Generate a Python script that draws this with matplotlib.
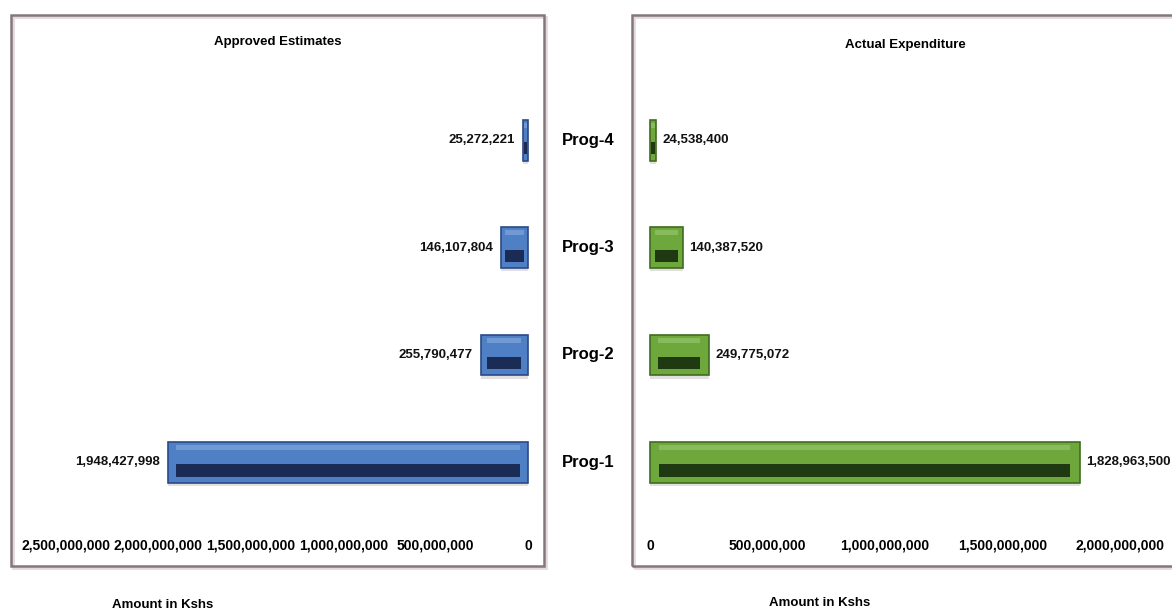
import matplotlib.pyplot as plt
from matplotlib.patches import Rectangle
from matplotlib.ticker import FuncFormatter

# programme budget figures (Kshs)
programmes = ["Prog-1", "Prog-2", "Prog-3", "Prog-4"]
approved = [1948427998, 255790477, 146107804, 25272221]
actual = [1828963500, 249775072, 140387520, 24538400]
approved_ticks = [0, 500000000, 1000000000, 1500000000, 2000000000, 2500000000]
actual_ticks = [0, 500000000, 1000000000, 1500000000, 2000000000]

W, H = 1172, 616
plt.rcParams["font.family"] = ["Liberation Sans", "DejaVu Sans"]
plt.rcParams["font.weight"] = "bold"

fig = plt.figure(figsize=(W / 100, H / 100), dpi=100)
fig.patch.set_facecolor("white")


def px_box(x0, y0, x1, y1):
    # pixel box (top-left origin) -> figure fraction rect
    return [x0 / W, 1 - y1 / H, (x1 - x0) / W, (y1 - y0) / H]


def frame(x0, y0, x1, y1):
    # light drop shadow then border, kept behind the axes
    sx, sy, sw, sh = px_box(x0 + 2, y0 + 2, x1 + 2, y1 + 2)
    fig.patches.append(Rectangle((sx, sy), sw, sh, transform=fig.transFigure,
                                 facecolor="none", edgecolor="#e2dadc", lw=2, zorder=-2))
    bx, by, bw, bh = px_box(x0, y0, x1, y1)
    fig.patches.append(Rectangle((bx, by), bw, bh, transform=fig.transFigure,
                                 facecolor="none", edgecolor="#85777a", lw=1.8, zorder=-1))


frame(11, 15, 544, 566)
frame(632, 15, 1180, 566)


def bevel_bars(ax, ys, vals, main, light, dark, edge, inset_max):
    h = 0.38
    for y, v in zip(ys, vals):
        ax.barh(y - 0.03, v, height=h, color="#d8d0d2", lw=0, alpha=0.7, zorder=1)
        ax.barh(y, v, height=h, color=main, edgecolor=edge, lw=1.2, zorder=2)
        ins = min(0.14 * v, inset_max)
        ax.barh(y + h * 0.36, v - 2 * ins, left=ins, height=h * 0.12,
                color=light, lw=0, zorder=3)
        ax.barh(y - h * 0.2, v - 2 * ins, left=ins, height=h * 0.3,
                color=dark, lw=0, zorder=3)


comma = FuncFormatter(lambda v, p: f"{int(v):,}")
ys = list(range(len(programmes)))

# left panel: approved estimates, value axis running right-to-left
axL = fig.add_axes(px_box(18, 80, 540, 515))
axL.set_xlim(2.76e9, -0.065e9)
axL.set_ylim(-0.49, 3.56)
bevel_bars(axL, ys, approved, "#4f7fc4", "#7199d4", "#1a2b55", "#2c4a86", 45e6)
for y, v in zip(ys, approved):
    axL.text(v + 45e6, y, f"{v:,}", ha="right", va="center", fontsize=9.5,
             fontweight="bold", color="#111111")
axL.set_xticks(approved_ticks)
axL.xaxis.set_major_formatter(comma)

# right panel: actual expenditure
axR = fig.add_axes(px_box(640, 80, 1172, 515))
axR.set_xlim(-0.0426e9, 2.221e9)
axR.set_ylim(-0.49, 3.56)
bevel_bars(axR, ys, actual, "#6ea83c", "#88bb5c", "#1f3a12", "#3f6d1f", 40e6)
for y, v in zip(ys, actual):
    axR.text(v + 28e6, y, f"{v:,}", ha="left", va="center", fontsize=9.5,
             fontweight="bold", color="#111111")
axR.set_xticks(actual_ticks)
axR.xaxis.set_major_formatter(comma)

for ax in (axL, axR):
    ax.set_facecolor("none")
    for s in ax.spines.values():
        s.set_visible(False)
    ax.set_yticks([])
    ax.tick_params(axis="x", length=0, pad=17, labelsize=10)
    for t in ax.get_xticklabels():
        t.set_fontweight("bold")

fig.text(278 / W, 1 - 42 / H, "Approved Estimates", ha="center", va="center",
         fontsize=9.5, fontweight="bold")
fig.text(905 / W, 1 - 45 / H, "Actual Expenditure", ha="center", va="center",
         fontsize=9.5, fontweight="bold")

# programme names between the two panels
for y, name in zip(ys, programmes):
    xf, yf = axL.transData.transform((0, y))
    fig.text(588 / W, yf / H, name, ha="center", va="center",
             fontsize=12, fontweight="bold")

fig.text(163 / W, 1 - 605 / H, "Amount in Kshs", ha="center", va="center",
         fontsize=9.5, fontweight="bold")
fig.text(820 / W, 1 - 603 / H, "Amount in Kshs", ha="center", va="center",
         fontsize=9.5, fontweight="bold")

fig.savefig("out.png", dpi=100, facecolor="white")
